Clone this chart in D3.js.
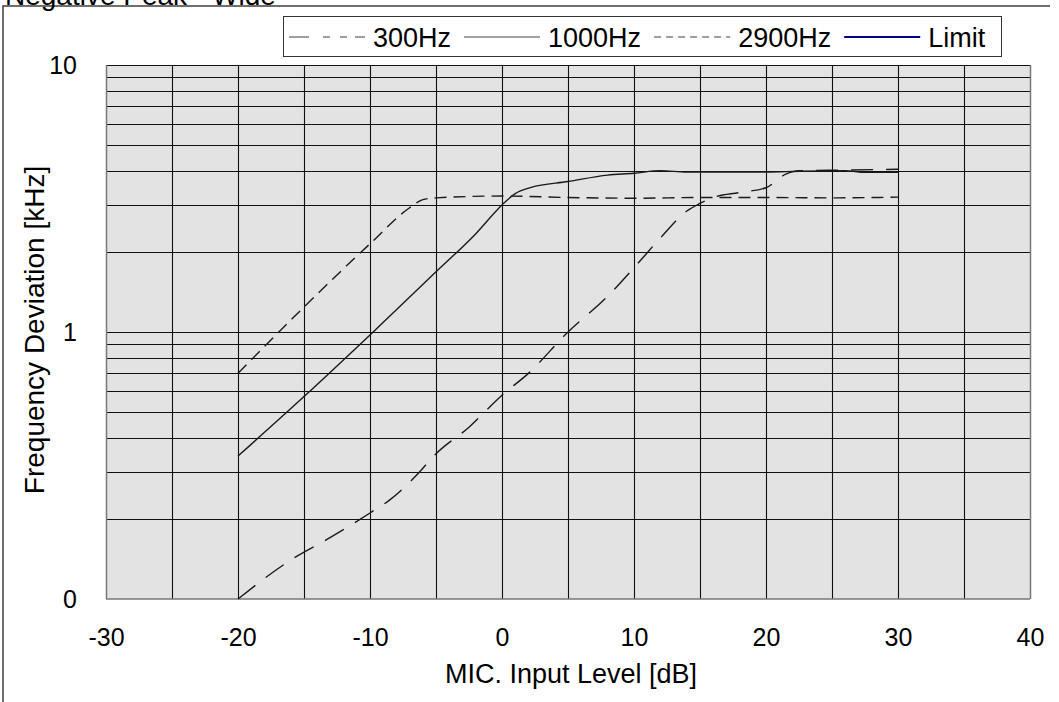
<!DOCTYPE html>
<html>
<head>
<meta charset="utf-8">
<script src="https://cdn.jsdelivr.net/npm/d3@7/dist/d3.min.js"></script>
<style>
  html, body { margin: 0; padding: 0; background: #fff; }
  svg { display: block; }
  text { font-family: "Liberation Sans", Arial, sans-serif; fill: #000; }
</style>
</head>
<body>
<svg id="chart" width="1059" height="702"></svg>
<script>
// ---- data ----
const titleText = "Negative Peak - Wide";
const xLabel = "MIC. Input Level [dB]";
const yLabel = "Frequency Deviation [kHz]";
const xTicks = [-30, -20, -10, 0, 10, 20, 30, 40];
const xTickLabels = ["-30", "-20", "-10", "0", "10", "20", "30", "40"];
const xGrid = [-30, -25, -20, -15, -10, -5, 0, 5, 10, 15, 20, 25, 30, 35, 40];
const yTickValues = [0.1, 1, 10];
const yTickLabels = ["0", "1", "10"];
const yGrid = [0.2, 0.3, 0.4, 0.5, 0.6, 0.7, 0.8, 0.9, 1, 2, 3, 4, 5, 6, 7, 8, 9, 10];
const seriesNames = ["300Hz", "1000Hz", "2900Hz", "Limit"];

const x300 = [-20, -16, -13, -10, -8.5, -6.5, -5, -2.5, 0, 2, 5, 8, 10, 12, 14, 15, 16, 18, 20, 21.5, 22.5, 26, 30];
const y300 = [0.10, 0.14, 0.17, 0.21, 0.235, 0.29, 0.35, 0.44, 0.58, 0.70, 1.0, 1.36, 1.74, 2.25, 2.84, 3.03, 3.19, 3.33, 3.47, 3.90, 4.02, 4.04, 4.07];

const x1000 = [-20, -15, -10, -5, -2, 0, 1, 2.2, 5, 8, 10, 12, 14, 20, 22.5, 26, 27.5, 30];
const y1000 = [0.343, 0.573, 0.975, 1.68, 2.33, 2.99, 3.30, 3.48, 3.66, 3.87, 3.93, 4.02, 3.97, 3.97, 4.0, 4.02, 3.96, 3.96];

const x2900 = [-20, -15, -10, -7, -6, -5, 0, 5, 10, 15, 20, 25, 30];
const y2900 = [0.70, 1.24, 2.14, 2.92, 3.13, 3.18, 3.23, 3.19, 3.17, 3.19, 3.19, 3.18, 3.20];

const xLimit = [];
const yLimit = [];

// ---- layout ----
const svg = d3.select("#chart");
const L = 106, R = 1030, T = 65, B = 599;
const x = d3.scaleLinear().domain([-30, 40]).range([L, R]);
const y = d3.scaleLog().domain([0.1, 10]).range([B, T]);
const FONT = '"Liberation Sans", Arial, sans-serif';

// outer frame (partly cropped)
svg.append("path")
  .attr("d", "M3,702 V6 H1050")
  .attr("fill", "none").attr("stroke", "#404040").attr("stroke-width", 1.5);

// title (cropped at top, as in the reference)
svg.append("text").attr("x", 5).attr("y", 5)
  .attr("font-size", 28).text(titleText);

// plot background
svg.append("rect").attr("x", L).attr("y", T).attr("width", R - L).attr("height", B - T)
  .attr("fill", "#e3e3e3");

// gridlines
const g = svg.append("g");
g.selectAll("line.h").data(yGrid).join("line")
  .attr("x1", L).attr("x2", R)
  .attr("y1", d => Math.round(y(d)) + 0.5).attr("y2", d => Math.round(y(d)) + 0.5)
  .attr("stroke", "#111").attr("stroke-width", 1.1);
g.selectAll("line.v").data(xGrid).join("line")
  .attr("y1", T).attr("y2", B)
  .attr("x1", d => Math.round(x(d)) + 0.5).attr("x2", d => Math.round(x(d)) + 0.5)
  .attr("stroke", d => (d === -30 || d === 40) ? "#777" : "#111")
  .attr("stroke-width", d => (d === -30 || d === 40) ? 1.5 : 1.1);
// bottom axis line
svg.append("line").attr("x1", L).attr("x2", R).attr("y1", B).attr("y2", B)
  .attr("stroke", "#777").attr("stroke-width", 1.5);

// series
const line = d3.line().x(d => x(d[0])).y(d => y(d[1])).curve(d3.curveMonotoneX);
const series = [
  { pts: d3.zip(x300, y300), dash: "22,13" },
  { pts: d3.zip(x1000, y1000), dash: null },
  { pts: d3.zip(x2900, y2900), dash: "12,7" }
];
svg.selectAll("path.series").data(series).join("path")
  .attr("class", "series")
  .attr("d", d => line(d.pts))
  .attr("fill", "none")
  .attr("stroke", "#1a1a1a")
  .attr("stroke-width", 1.4)
  .attr("stroke-dasharray", d => d.dash);
if (xLimit.length) {
  svg.append("path").attr("d", line(d3.zip(xLimit, yLimit)))
    .attr("fill", "none").attr("stroke", "#000080").attr("stroke-width", 2);
}

// axes tick labels
const xAxis = d3.axisBottom(x).tickValues(xTicks)
  .tickFormat((d, i) => xTickLabels[i]).tickSize(0).tickPadding(0);
const xa = svg.append("g").attr("transform", `translate(0,${B})`).call(xAxis);
xa.select(".domain").remove();
xa.selectAll("text").attr("font-size", 25).attr("dy", null).attr("y", 47)
  .attr("fill", "#000").style("font-family", FONT);

const yAxis = d3.axisLeft(y).tickValues(yTickValues)
  .tickFormat((d, i) => yTickLabels[i]).tickSize(0).tickPadding(0);
const ya = svg.append("g").attr("transform", `translate(77,0)`).call(yAxis);
ya.select(".domain").remove();
ya.selectAll("text").attr("font-size", 25).attr("x", 0).attr("dy", "0.35em")
  .attr("fill", "#000").style("font-family", FONT);

// axis titles
svg.append("text").attr("x", (L + R) / 2 + 3).attr("y", 683)
  .attr("text-anchor", "middle").attr("font-size", 27).text(xLabel);
svg.append("text").attr("transform", "translate(44,330) rotate(-90)")
  .attr("text-anchor", "middle").attr("font-size", 28).text(yLabel);

// legend
const leg = svg.append("g");
leg.append("rect").attr("x", 283.5).attr("y", 16.5).attr("width", 718).attr("height", 40)
  .attr("fill", "#fff").attr("stroke", "#333").attr("stroke-width", 1);
const legStyles = [
  { color: "#808080", dash: "20,14,7,10,7,8", w: 1.5 },
  { color: "#808080", dash: null, w: 1.5 },
  { color: "#808080", dash: "7,5", w: 1.5 },
  { color: "#000080", dash: null, w: 2 }
];
let cx = 289;
seriesNames.forEach((name, i) => {
  const st = legStyles[i];
  leg.append("line").attr("x1", cx).attr("x2", cx + 76).attr("y1", 37).attr("y2", 37)
    .attr("stroke", st.color).attr("stroke-width", st.w).attr("stroke-dasharray", st.dash);
  const t = leg.append("text").attr("x", cx + 84).attr("y", 47).attr("font-size", 27).text(name);
  cx = cx + 84 + t.node().getComputedTextLength() + 13;
});
</script>
</body>
</html>
